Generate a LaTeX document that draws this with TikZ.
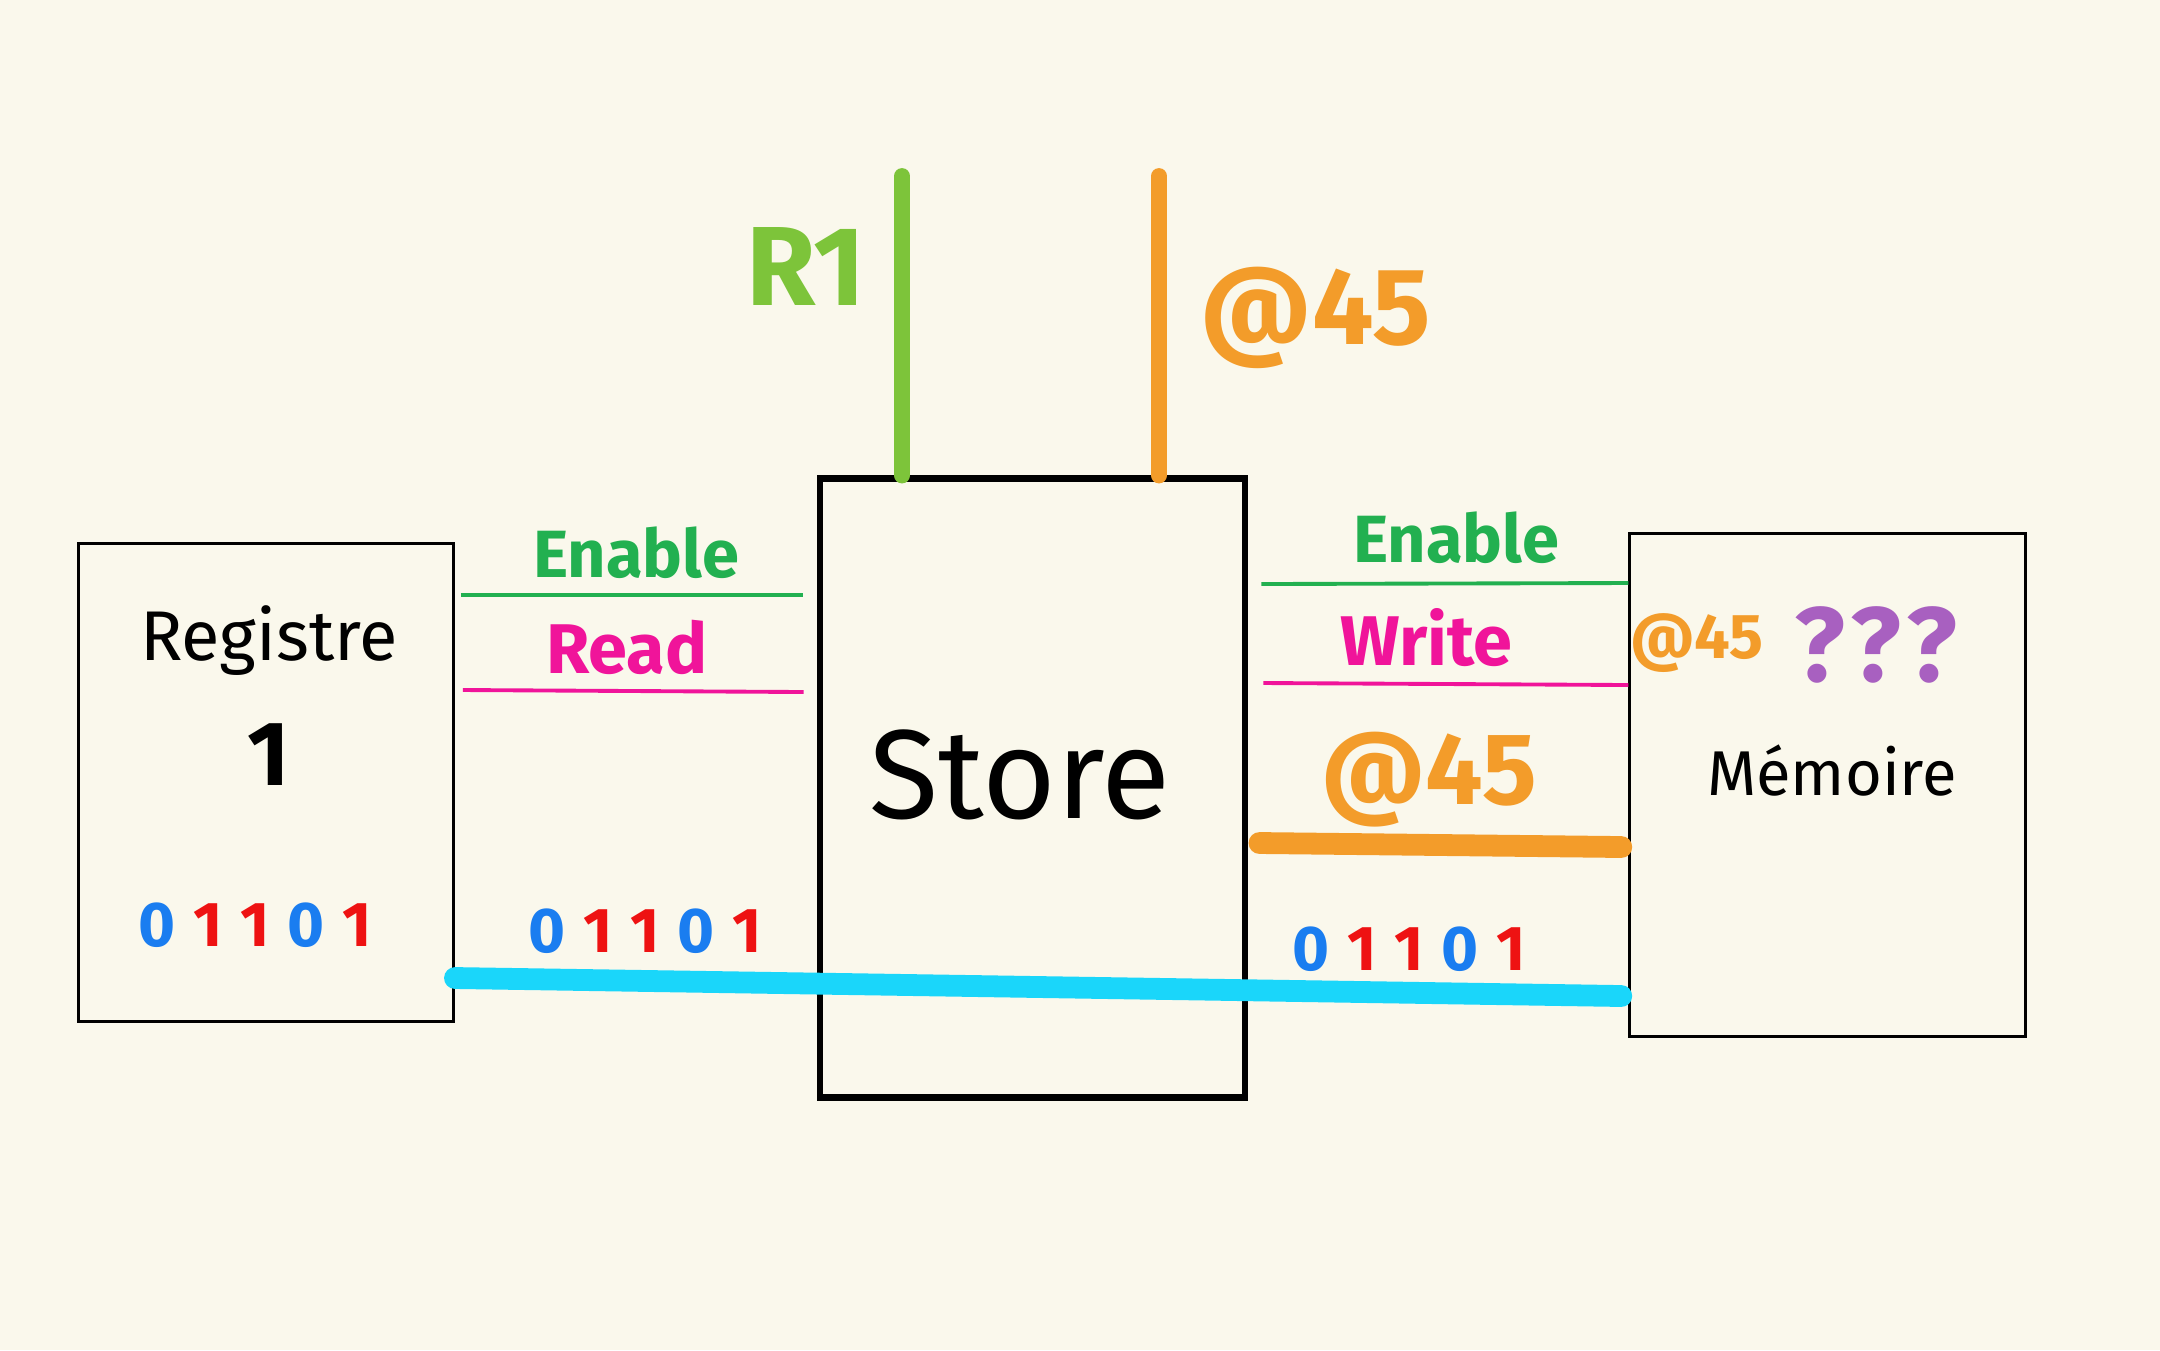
\documentclass[tikz,border=0pt]{standalone}
\usepackage{fontspec}
\setmainfont{Fira Sans}
\usetikzlibrary{positioning}

\definecolor{paper}{HTML}{FAF8EC}
\definecolor{wiregreen}{HTML}{7DC43A}
\definecolor{wireorange}{HTML}{F39C2A}
\definecolor{enablegreen}{HTML}{22B050}
\definecolor{rwmagenta}{HTML}{F0149A}
\definecolor{buscyan}{HTML}{1AD6FA}
\definecolor{bitblue}{HTML}{1A7DF0}
\definecolor{bitred}{HTML}{EE1212}
\definecolor{askpurple}{HTML}{A860C0}

\tikzset{
  unitbox/.style={draw=black, line width=0.9pt, minimum width=3.75cm, minimum height=4.77cm},
  ctrl/.style={line width=1.1pt},
  fatwire/.style={line width=4.5pt, line cap=round},
  bus/.style={line width=6.2pt, line cap=round},
  lbl/.style={font=\fontsize{#1}{#1}\selectfont\bfseries, inner sep=0pt},
}
\newcommand{\bitgap}{\hspace{0.28em}}
\newcommand{\bits}{\textcolor{bitblue}{0}\bitgap\textcolor{bitred}{1}\bitgap\textcolor{bitred}{1}\bitgap\textcolor{bitblue}{0}\bitgap\textcolor{bitred}{1}}

\begin{document}
\begin{tikzpicture}[x=0.01cm, y=-0.01cm]
  % Paper
  \fill[paper] (0,0) rectangle (2160,1350);
  \useasboundingbox (0,0) rectangle (2160,1350);

  % Boxes
  \node[unitbox] (reg) at (265.75,782.5) {};
  \node[unitbox, line width=1.9pt, minimum width=4.25cm, minimum height=6.18cm] (store) at (1032.5,788) {};
  \node[unitbox, minimum width=3.95cm, minimum height=5.02cm] (mem) at (1827.5,785) {};

  % Box texts
  \node[font=\fontsize{20}{20}\selectfont, inner sep=0pt] (regname) at (269,641) {Registre};
  \node[lbl=26] (regnum) at (269,755) {1};
  \node[lbl=18] (regbits) at (255,925) {\bits};
  \node[font=\fontsize{36}{36}\selectfont, inner sep=0pt] (storename) at (1020,775) {Store};
  \node[font=\fontsize{18}{18}\selectfont, inner sep=0pt] (memname) at (1832,771) {Mémoire};
  \node[lbl=18, text=wireorange] (memaddr) at (1697,643) {@45};
  \node[lbl=30, text=askpurple] (memask) at (1876,645) {?\hspace{0.05em}?\hspace{0.05em}?};

  % Top wires
  \coordinate (rtop) at (902,176);
  \coordinate (atop) at (1159,176);
  \draw[fatwire, wiregreen] (rtop) -- (rtop |- store.north);
  \draw[fatwire, wireorange] (atop) -- (atop |- store.north);
  \node[lbl=32, text=wiregreen] (rname) at (806,266) {R1};
  \node[lbl=31, text=wireorange] (topaddr) at (1316,318) {@45};

  % Left side: Registre <-> Store
  \draw[ctrl, enablegreen] ([xshift=0.06cm]reg.east |- 0,595) -- ([xshift=-0.14cm]store.west |- 0,595);
  \draw[ctrl, rwmagenta] ([xshift=0.08cm]reg.east |- 0,690) -- ([xshift=-0.13cm]store.west |- 0,692);
  \node[lbl=19, text=enablegreen] (lenable) at (636,553) {Enable};
  \node[lbl=20, text=rwmagenta] (lread) at (627,647) {Read};
  \node[lbl=18] (lbits) at (645,931) {\bits};

  % Right side: Store <-> Memoire
  \draw[ctrl, enablegreen] ([xshift=0.13cm]store.east |- 0,584) -- (mem.west |- 0,583);
  \draw[ctrl, rwmagenta] ([xshift=0.15cm]store.east |- 0,683) -- (mem.west |- 0,685);
  \draw[bus, wireorange] ([xshift=0.11cm]store.east |- 0,843) -- ([xshift=-0.07cm]mem.west |- 0,847);
  \node[lbl=19, text=enablegreen] (renable) at (1456,538) {Enable};
  \node[lbl=20, text=rwmagenta] (rwrite) at (1426,638) {Write};
  \node[lbl=29, text=wireorange] (raddr) at (1429,780) {@45};
  \node[lbl=18] (rbits) at (1409,949) {\bits};

  % Data bus
  \draw[bus, buscyan] (reg.east |- 0,978) -- ([xshift=-0.07cm]mem.west |- 0,996);
\end{tikzpicture}
\end{document}
